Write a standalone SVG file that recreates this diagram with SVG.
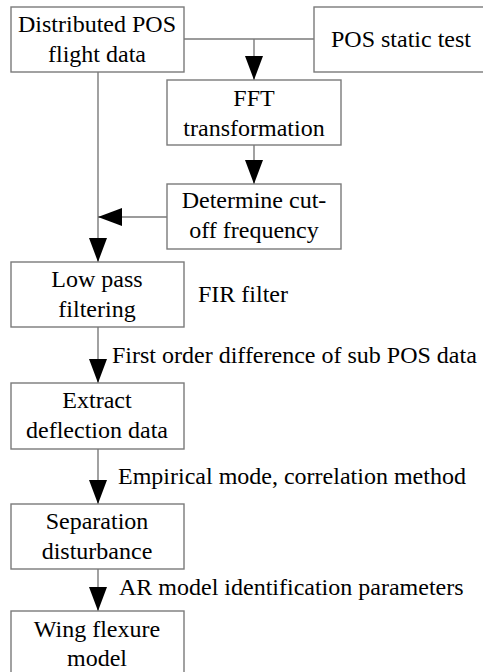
<svg xmlns="http://www.w3.org/2000/svg" width="483" height="672" viewBox="0 0 483 672">
<defs>
<marker id="ah" markerUnits="userSpaceOnUse" markerWidth="24" markerHeight="18" refX="24" refY="9" orient="auto">
<path d="M0,0 L24,9 L0,18 Z" fill="#000"/>
</marker>
</defs>
<rect width="483" height="672" fill="#fff"/>
<g id="connectors" fill="none" stroke="#7a7a7a" stroke-width="1.4">
<path d="M184,39 H314"/>
<path d="M254,39 V80" marker-end="url(#ah)"/>
<path d="M254,145 V184" marker-end="url(#ah)"/>
<path d="M98,72 V262" marker-end="url(#ah)"/>
<path d="M167,217 H98" marker-end="url(#ah)"/>
<path d="M98,327 V383" marker-end="url(#ah)"/>
<path d="M98,449 V504" marker-end="url(#ah)"/>
<path d="M98,569 V611" marker-end="url(#ah)"/>
</g>
<g id="n1"><rect x="11" y="7" width="173" height="65" fill="#fff" stroke="#7a7a7a" stroke-width="1.4"/><text x="97" y="32" text-anchor="middle" font-family="Liberation Serif" font-size="24">Distributed POS</text><text x="97" y="62" text-anchor="middle" font-family="Liberation Serif" font-size="24">flight data</text></g>
<g id="n2"><rect x="314" y="7" width="172" height="65" fill="#fff" stroke="#7a7a7a" stroke-width="1.4"/><text x="401" y="47" text-anchor="middle" font-family="Liberation Serif" font-size="24">POS static test</text></g>
<g id="n3"><rect x="167" y="80" width="174" height="65" fill="#fff" stroke="#7a7a7a" stroke-width="1.4"/><text x="254" y="106" text-anchor="middle" font-family="Liberation Serif" font-size="24">FFT</text><text x="254" y="136" text-anchor="middle" font-family="Liberation Serif" font-size="24">transformation</text></g>
<g id="n4"><rect x="167" y="184" width="174" height="65" fill="#fff" stroke="#7a7a7a" stroke-width="1.4"/><text x="254" y="208" text-anchor="middle" font-family="Liberation Serif" font-size="24">Determine cut-</text><text x="254" y="238" text-anchor="middle" font-family="Liberation Serif" font-size="24">off frequency</text></g>
<g id="n5"><rect x="11" y="262" width="173" height="65" fill="#fff" stroke="#7a7a7a" stroke-width="1.4"/><text x="97" y="287" text-anchor="middle" font-family="Liberation Serif" font-size="24">Low pass</text><text x="97" y="317" text-anchor="middle" font-family="Liberation Serif" font-size="24">filtering</text></g>
<g id="l1"><text x="198" y="302" font-family="Liberation Serif" font-size="24">FIR filter</text></g>
<g id="l2"><text x="112" y="363" font-family="Liberation Serif" font-size="24">First order difference of sub POS data</text></g>
<g id="n6"><rect x="11" y="383" width="173" height="66" fill="#fff" stroke="#7a7a7a" stroke-width="1.4"/><text x="97" y="408" text-anchor="middle" font-family="Liberation Serif" font-size="24">Extract</text><text x="97" y="438" text-anchor="middle" font-family="Liberation Serif" font-size="24">deflection data</text></g>
<g id="l3"><text x="118" y="484" font-family="Liberation Serif" font-size="24">Empirical mode, correlation method</text></g>
<g id="n7"><rect x="11" y="504" width="173" height="65" fill="#fff" stroke="#7a7a7a" stroke-width="1.4"/><text x="97" y="529" text-anchor="middle" font-family="Liberation Serif" font-size="24">Separation</text><text x="97" y="559" text-anchor="middle" font-family="Liberation Serif" font-size="24">disturbance</text></g>
<g id="l4"><text x="119" y="595" font-family="Liberation Serif" font-size="24">AR model identification parameters</text></g>
<g id="n8"><rect x="11" y="611" width="173" height="75" fill="#fff" stroke="#7a7a7a" stroke-width="1.4"/><text x="97" y="637" text-anchor="middle" font-family="Liberation Serif" font-size="24">Wing flexure</text><text x="97" y="666" text-anchor="middle" font-family="Liberation Serif" font-size="24">model</text></g>
</svg>
